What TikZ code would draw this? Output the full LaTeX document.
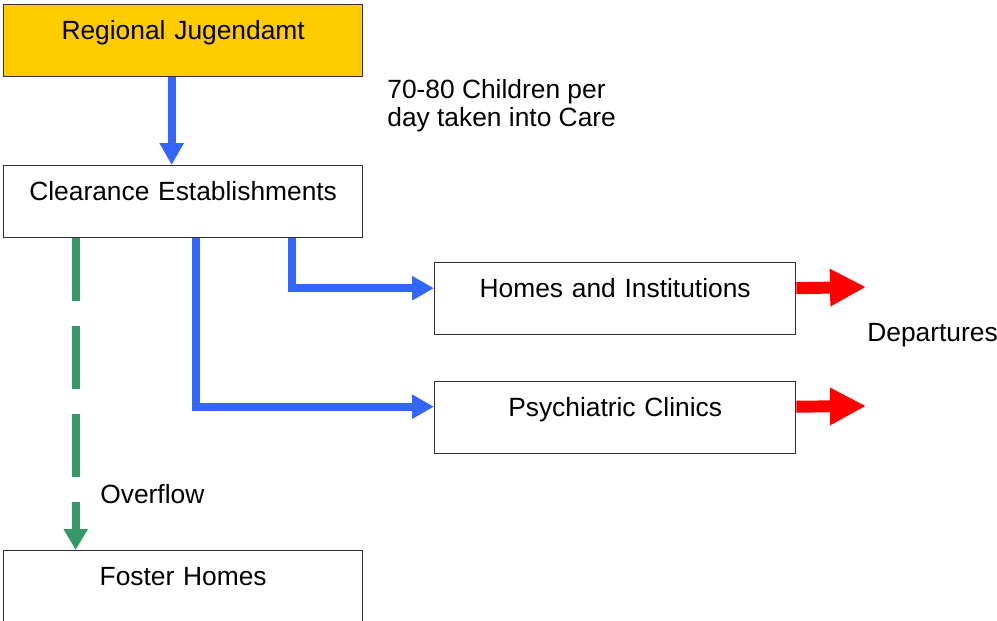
\documentclass[tikz,border=0pt]{standalone}
\usepackage{fontspec}
\setmainfont{Liberation Sans}
\usetikzlibrary{arrows.meta}
\definecolor{amtyellow}{HTML}{FFCC00}
\definecolor{flowblue}{HTML}{3366FF}
\definecolor{overgreen}{HTML}{339966}
\tikzstyle{flow} = [line width=4.5pt,draw=flowblue,-{Triangle[width=0.46cm,length=0.44cm]}]
\tikzstyle{overflow} = [line width=4.5pt,draw=overgreen,dash pattern=on 1.26cm off 0.5cm,-{Triangle[width=0.46cm,length=0.42cm]}]
\tikzstyle{leave} = [line width=6.8pt,draw=red,-{Triangle[width=0.7cm,length=0.72cm]}]

\begin{document}
\begin{tikzpicture}
        [
            x=0.02cm,y=-0.02cm,
            font=\fontsize{15}{15.9}\selectfont,
            box/.style={rectangle,draw=black!80,line width=0.8pt,inner sep=0pt,anchor=north west,
                        text width=7.18cm,align=center,text height=0.70cm,text depth=0.74cm},
            note/.style={inner sep=0pt,align=left},
        ]
    \useasboundingbox (0,0) rectangle (997,621);

    \node[box,fill=amtyellow] (amt) at (3,4) {Regional Jugendamt};
    \node[box] (clear) at (3,165) {Clearance Establishments};
    \node[box,text width=7.22cm] (homes) at (434,262) {Homes and Institutions};
    \node[box,text width=7.22cm] (psych) at (434,381) {Psychiatric Clinics};
    \node[box] (foster) at (3,550) {Foster Homes};

    \node[note,anchor=north west] (care) at (387,79) {70-80 Children per\\day taken into Care};
    \node[note,anchor=base west] (dep) at (867,342) {Departures};
    \node[note,anchor=base west] (over) at (100,503) {Overflow};

    \coordinate (out1) at (866,287);
    \coordinate (out2) at (866,406);

    \draw[flow] ([xshift=-0.23cm]amt.south) -- ([xshift=-0.23cm]clear.north);
    \draw[flow] ([xshift=2.17cm]clear.south) |- ([yshift=0.21cm]homes.west);
    \draw[flow] ([xshift=0.25cm]clear.south) |- ([yshift=0.22cm]psych.west);
    \draw[overflow] ([xshift=-2.15cm]clear.south) -- ([xshift=-2.15cm]foster.north);
    \draw[leave] ([yshift=0.21cm]homes.east) -- (out1);
    \draw[leave] ([yshift=0.22cm]psych.east) -- (out2);
\end{tikzpicture}
\end{document}
